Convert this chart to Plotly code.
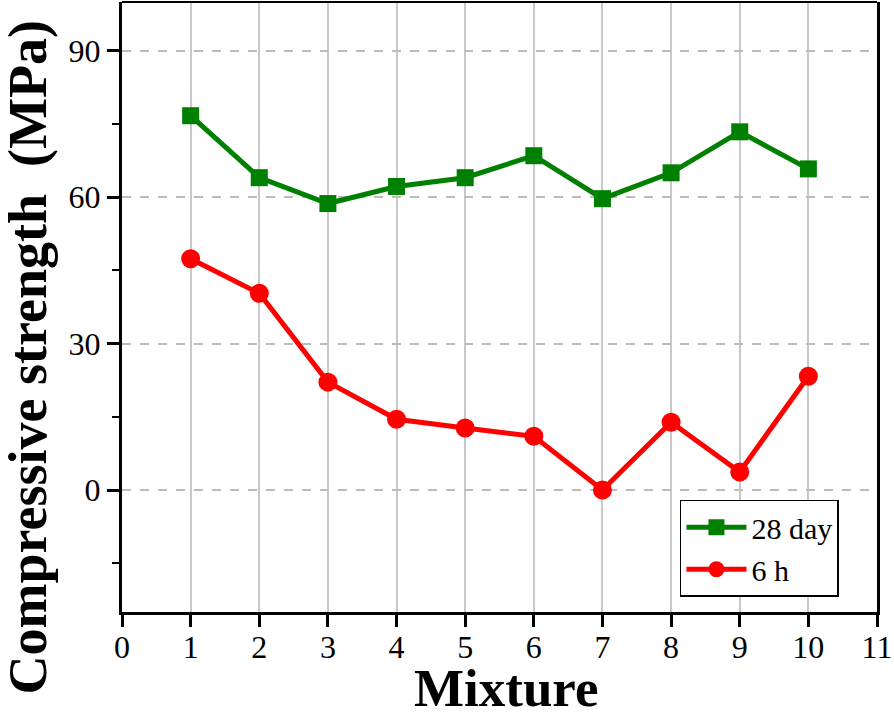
import plotly.graph_objects as go

mixture = [1, 2, 3, 4, 5, 6, 7, 8, 9, 10]
strength_28day = [76.7, 64.0, 58.7, 62.2, 64.0, 68.5, 59.7, 65.0, 73.4, 65.8]
strength_6h = [47.4, 40.3, 22.1, 14.5, 12.7, 11.0, 0.0, 13.9, 3.7, 23.3]
x_ticks = list(range(0, 12))
y_ticks = [0, 30, 60, 90]

FONT = "Liberation Serif"

fig = go.Figure()
fig.add_trace(go.Scatter(
    x=mixture, y=strength_28day, name="28 day", mode="lines+markers",
    line=dict(color="#008000", width=5),
    marker=dict(symbol="square", size=17, color="#008000"),
))
fig.add_trace(go.Scatter(
    x=mixture, y=strength_6h, name="6 h", mode="lines+markers",
    line=dict(color="#ff0000", width=5),
    marker=dict(symbol="circle", size=19, color="#ff0000"),
))

fig.update_layout(
    width=894, height=715,
    margin=dict(l=122, r=14, t=2, b=103),
    paper_bgcolor="white", plot_bgcolor="white",
    font=dict(family=FONT, color="black", size=32),
    showlegend=True,
    legend=dict(
        x=0.739, y=0.025, xanchor="left", yanchor="bottom",
        bgcolor="white", bordercolor="black", borderwidth=1.5,
        font=dict(family=FONT, size=30, color="black"),
        itemwidth=60, tracegroupgap=0,
    ),
    xaxis=dict(
        range=[0, 11], tickmode="array", tickvals=x_ticks,
        ticks="outside", ticklen=12, tickwidth=3, tickcolor="black",
        showline=True, linecolor="black", linewidth=3,
        showgrid=True, gridcolor="#c8c8c8", gridwidth=1.5,
        zeroline=False, ticklabelstandoff=-7, ticklabeloverflow="allow",
        tickfont=dict(family=FONT, size=32),
    ),
    yaxis=dict(
        range=[-25, 100], tickmode="array", tickvals=y_ticks,
        ticks="outside", ticklen=12, tickwidth=3, tickcolor="black",
        showline=True, linecolor="black", linewidth=3, mirror=True,
        showgrid=True, gridcolor="#bbbbbb", gridwidth=1.5, griddash="dash",
        zeroline=False,
        tickfont=dict(family=FONT, size=32),
        minor=dict(tickvals=[-15, 15, 45, 75], ticks="outside", ticklen=7,
                   tickwidth=2, tickcolor="black", showgrid=False),
    ),
)

fig.add_annotation(text="<b>Mixture</b>", xref="paper", yref="paper",
                   x=0.509, y=-0.125, xanchor="center", yanchor="middle",
                   showarrow=False, font=dict(family=FONT, size=53, color="black"))
fig.add_annotation(text="<b>Compressive strength  (MPa)</b>", xref="paper", yref="paper",
                   x=-0.124, y=0.418, xanchor="center", yanchor="middle", textangle=-90,
                   showarrow=False, font=dict(family=FONT, size=54, color="black"))

fig.add_shape(type="line", xref="paper", yref="paper", x0=0, x1=1, y0=1, y1=1,
              line=dict(color="black", width=2))

fig.write_html("out.html", config={"displayModeBar": False},
               post_script="document.body.style.margin='0px';")
